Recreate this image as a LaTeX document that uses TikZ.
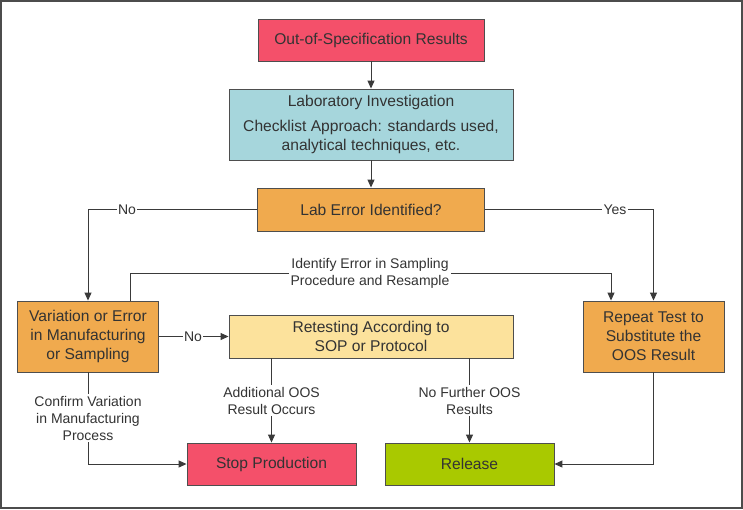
\documentclass[tikz,border=0pt]{standalone}
\usepackage{fontspec}
\setmainfont{Liberation Sans}
\usetikzlibrary{arrows.meta}
\definecolor{cred}{HTML}{F4506A}
\definecolor{cteal}{HTML}{A6D6DC}
\definecolor{corange}{HTML}{F0AA4E}
\definecolor{cyellow}{HTML}{FCE29C}
\definecolor{cgreen}{HTML}{A9C900}
\definecolor{cline}{HTML}{3A3A3A}
\definecolor{ctext}{HTML}{333333}
\begin{document}
\begin{tikzpicture}[x=1pt,y=-1pt,
  box/.style={draw=cline!90, line width=0.9pt, rectangle, inner sep=0pt, align=center,
    text=ctext, font=\fontsize{15.6}{19}\selectfont},
  lbl/.style={fill=white, inner sep=1.5pt, align=center, text=ctext,
    font=\fontsize{14}{17}\selectfont},
  arr/.style={draw=cline, line width=1pt, -{Triangle[length=8pt,width=7pt]}},
  ln/.style={draw=cline, line width=1pt}]
\useasboundingbox (0,0) rectangle (743,509);
\draw[draw=black!70, line width=1.5pt] (1,1) rectangle (742,508);
\node[box, fill=cred, minimum width=226, minimum height=42] (b1) at (371,40) {Out-of-Specification Results};
\node[box, fill=cteal, minimum width=284, minimum height=71] (b2) at (371,124.5)
  {Laboratory Investigation\\[6pt]Checklist Approach: standards used,\\analytical techniques, etc.};
\node[box, fill=corange, minimum width=227, minimum height=43] (b3) at (371,209.5) {Lab Error Identified?};
\node[box, fill=corange, minimum width=141, minimum height=71] (var) at (88,336.5)
  {Variation or Error\\in Manufacturing\\or Sampling};
\node[box, fill=cyellow, minimum width=284, minimum height=43] (ret) at (371,336.5)
  {Retesting According to\\SOP or Protocol};
\node[box, fill=corange, minimum width=141, minimum height=71] (rep) at (653.5,336.5)
  {Repeat Test to\\Substitute the\\OOS Result};
\node[box, fill=cred, minimum width=169, minimum height=42] (stop) at (271.5,464) {Stop Production};
\node[box, fill=cgreen, minimum width=169, minimum height=42] (rel) at (469.5,464) {Release};
\coordinate (c2) at (611,273);
\draw[arr] (b1) -- (b2);
\draw[arr] (b2) -- (b3);
\draw[arr] (b3.west) -| (var.north);
\draw[arr] (b3.east) -| (rep.north);
\draw[arr] ([xshift=42pt]var.north) |- (c2) -- (c2 |- rep.north);
\draw[arr] (var) -- (ret);
\draw[arr] (ret.south -| stop.north) -- (stop.north);
\draw[arr] (ret.south -| rel.north) -- (rel.north);
\draw[arr] (var.south) |- (stop.west);
\draw[arr] (rep.south) |- (rel.east);
\node[lbl] (lno1) at (127,209.5) {No};
\node[lbl] (lyes) at (615,209.5) {Yes};
\node[lbl] (lid) at (370,273) {Identify Error in Sampling\\Procedure and Resample};
\node[lbl] (lno2) at (193,336.5) {No};
\node[lbl] (ladd) at (271.5,400.5) {Additional OOS\\Result Occurs};
\node[lbl] (lnf) at (469.5,400.5) {No Further OOS\\Results};
\node[lbl] (lconf) at (88,418) {Confirm Variation\\in Manufacturing\\Process};
\end{tikzpicture}
\end{document}
